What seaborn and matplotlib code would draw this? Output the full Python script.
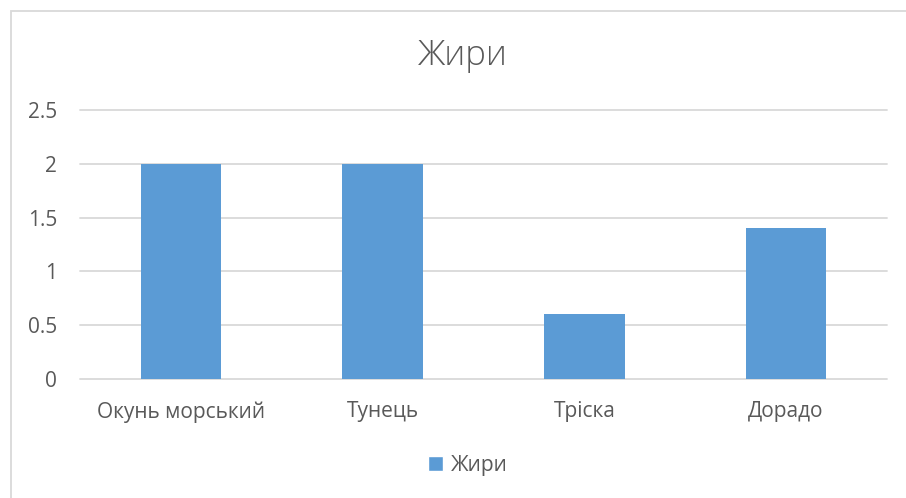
import matplotlib
matplotlib.use("Agg")
import matplotlib.pyplot as plt
from matplotlib.patches import Rectangle, Patch
import seaborn as sns
import pandas as pd

categories = ["Окунь морський", "Тунець", "Тріска", "Дорадо"]
fat_values = [2, 2, 0.6, 1.4]
series_name = "Жири"
y_ticks = [0, 0.5, 1, 1.5, 2, 2.5]
y_tick_labels = ["0", "0.5", "1", "1.5", "2", "2.5"]

BAR_COLOR = "#5B9BD5"
TEXT_COLOR = "#595959"
GRID_COLOR = "#D9D9D9"

sns.set_style("white")
plt.rcParams["font.family"] = ["Open Sans", "DejaVu Sans"]

df = pd.DataFrame({"category": categories, "value": fat_values})

W, H = 906, 498
fig = plt.figure(figsize=(W / 100, H / 100), dpi=100)

# chart frame
fig.patches.append(Rectangle((11 / W, -0.1), 1.2, 1 - 11 / H + 0.1,
                             transform=fig.transFigure, fill=False,
                             edgecolor=GRID_COLOR, linewidth=1.3))

ax = fig.add_axes([80 / W, 1 - 379 / H, (887 - 80) / W, (379 - 110) / H])
sns.barplot(data=df, x="category", y="value", color=BAR_COLOR,
            width=0.4, saturation=1, linewidth=0, ax=ax, zorder=3)

ax.set_ylim(0, 2.5)
ax.set_xlim(-0.5, len(categories) - 0.5)
ax.set_yticks(y_ticks)
ax.set_yticklabels(y_tick_labels)
for y in y_ticks:
    ax.axhline(y, color=GRID_COLOR, linewidth=1.3, zorder=1, clip_on=False)
for s in ax.spines.values():
    s.set_visible(False)
ax.tick_params(axis="both", length=0, labelsize=15, colors=TEXT_COLOR)
ax.tick_params(axis="y", pad=16.5)
ax.tick_params(axis="x", pad=16)
ax.set_xlabel("")
ax.set_ylabel("")

fig.text(463 / W, 1 - 56 / H, series_name, ha="center", va="center",
         fontsize=25, fontweight="light", color=TEXT_COLOR)

fig.legend(handles=[Patch(facecolor=BAR_COLOR, label=series_name)],
           loc="center", bbox_to_anchor=(468 / W, 1 - 465 / H),
           frameon=False, fontsize=15, labelcolor=TEXT_COLOR,
           handlelength=0.7, handleheight=0.7, handletextpad=0.4)

fig.savefig("out.png", dpi=100)
